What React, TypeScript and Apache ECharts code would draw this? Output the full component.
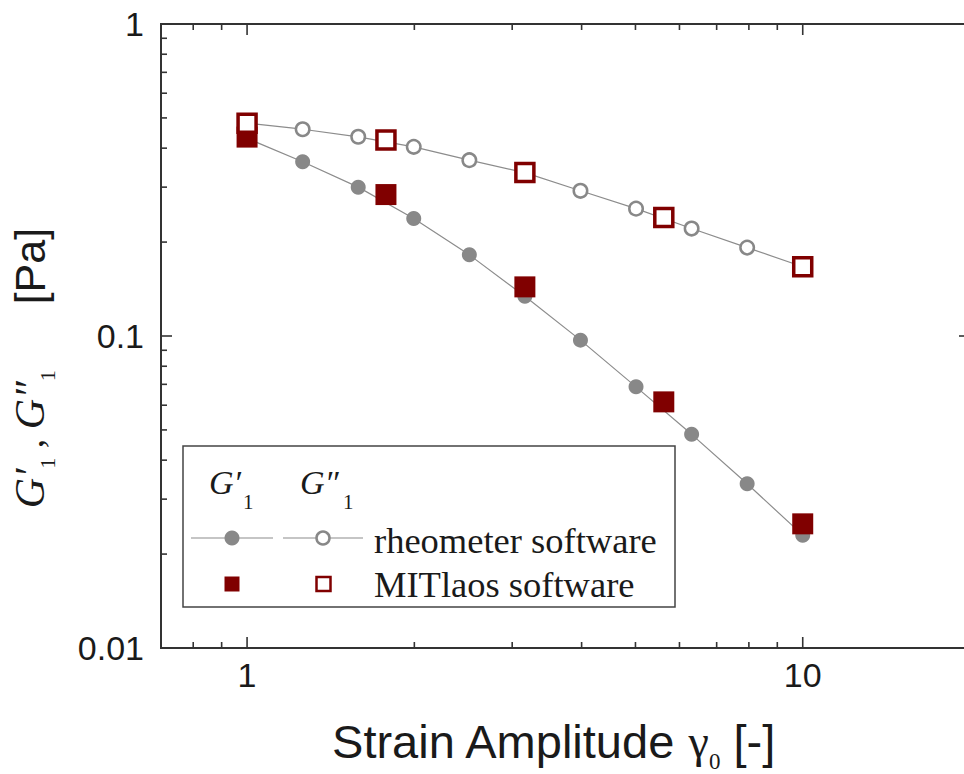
import React, { useEffect, useRef } from 'react';
import * as echarts from 'echarts';

// ---- data ----
const strainRheo = [1, 1.259, 1.585, 1.995, 2.512, 3.162, 3.981, 5.012, 6.31, 7.943, 10];
const gPrimeRheo = [0.43, 0.362, 0.3, 0.238, 0.182, 0.134, 0.097, 0.0687, 0.0484, 0.0336, 0.023];
const gDoublePrimeRheo = [0.481, 0.46, 0.435, 0.404, 0.366, 0.334, 0.292, 0.256, 0.221, 0.192, 0.1667];

const strainMit = [1, 1.778, 3.162, 5.623, 10];
const gPrimeMit = [0.434, 0.284, 0.1437, 0.0615, 0.025];
const gDoublePrimeMit = [0.481, 0.4245, 0.3344, 0.2399, 0.1667];

const xMajorTicks = [1, 10];
const xTickLabels = ['1', '10'];
const yMajorTicks = [0.01, 0.1, 1];
const yTickLabels = ['0.01', '0.1', '1'];
const xTickValues = [0.7, 0.8, 0.9, 1, 2, 3, 4, 5, 6, 7, 8, 9, 10, 20];
const yTickValues = [
  0.01, 0.02, 0.03, 0.04, 0.05, 0.06, 0.07, 0.08, 0.09,
  0.1, 0.2, 0.3, 0.4, 0.5, 0.6, 0.7, 0.8, 0.9, 1,
];

const SANS = '"Liberation Sans", Arial, Helvetica, sans-serif';
const SERIF = '"Liberation Serif", "Times New Roman", Times, serif';
const RED = '#800000';
const GRAY = '#888888';
const INK = '#1a1a1a';

const isMajor = (v: number) => {
  const l = Math.log10(v);
  return Math.abs(l - Math.round(l)) < 1e-6;
};
const labelFor = (v: number, majors: number[], labels: string[]) => {
  for (let i = 0; i < majors.length; i++) {
    if (Math.abs(v - majors[i]) / majors[i] < 1e-6) return labels[i];
  }
  return '';
};

const tickStyle = { stroke: '#333', lineWidth: 1.6 };
const leftMid = { align: 'left', verticalAlign: 'middle', textAlign: 'left', textVerticalAlign: 'middle' };

export default function App() {
  const ref = useRef<HTMLDivElement>(null);

  useEffect(() => {
    const chart = echarts.init(ref.current as HTMLDivElement, null, { renderer: 'svg' });

    const option: any = {
      animation: false,
      backgroundColor: '#ffffff',
      grid: {
        left: 161,
        top: 24,
        width: 809,
        height: 624,
        show: true,
        borderColor: '#333',
        borderWidth: 2,
        backgroundColor: 'transparent',
        outerBoundsMode: 'none',
        containLabel: false,
      },
      xAxis: {
        type: 'log',
        logBase: 10,
        min: 0.7,
        max: 20,
        axisLine: { show: false },
        axisTick: { show: false },
        minorTick: { show: false },
        splitLine: { show: false },
        axisLabel: {
          margin: 10,
          fontSize: 34,
          fontFamily: SANS,
          color: INK,
          formatter: (v: number) => labelFor(v, xMajorTicks, xTickLabels),
        },
      },
      yAxis: {
        type: 'log',
        logBase: 10,
        min: 0.01,
        max: 1,
        axisLine: { show: false },
        axisTick: { show: false },
        minorTick: { show: false },
        splitLine: { show: false },
        axisLabel: {
          margin: 17,
          fontSize: 34,
          fontFamily: SANS,
          color: INK,
          formatter: (v: number) => labelFor(v, yMajorTicks, yTickLabels),
        },
      },
      series: [
        {
          name: 'xTicks',
          type: 'custom',
          silent: true,
          clip: false,
          z: 10,
          data: xTickValues.map((v) => [v, 0.1]),
          renderItem: (params: any, api: any) => {
            const v = api.value(0);
            const x = api.coord([v, 0.1])[0];
            const cs = params.coordSys;
            const len = isMajor(v) ? 11 : 6;
            const b = cs.y + cs.height;
            return {
              type: 'group',
              children: [
                { type: 'line', shape: { x1: x, y1: b, x2: x, y2: b - len }, style: tickStyle },
                { type: 'line', shape: { x1: x, y1: cs.y, x2: x, y2: cs.y + len }, style: tickStyle },
              ],
            };
          },
        },
        {
          name: 'yTicks',
          type: 'custom',
          silent: true,
          clip: false,
          z: 10,
          data: yTickValues.map((v) => [1, v]),
          renderItem: (params: any, api: any) => {
            const v = api.value(1);
            const y = api.coord([1, v])[1];
            const cs = params.coordSys;
            const len = isMajor(v) ? 11 : 6;
            const r = cs.x + cs.width;
            return {
              type: 'group',
              children: [
                { type: 'line', shape: { x1: cs.x, y1: y, x2: cs.x + len, y2: y }, style: tickStyle },
                { type: 'line', shape: { x1: r, y1: y, x2: r - len, y2: y }, style: tickStyle },
              ],
            };
          },
        },
        {
          name: "G'1 rheometer",
          type: 'line',
          data: strainRheo.map((x, i) => [x, gPrimeRheo[i]]),
          symbol: 'circle',
          symbolSize: 15,
          itemStyle: { color: GRAY, opacity: 1 },
          lineStyle: { color: '#8c8c8c', width: 1.2 },
          z: 3,
        },
        {
          name: "G''1 rheometer",
          type: 'line',
          data: strainRheo.map((x, i) => [x, gDoublePrimeRheo[i]]),
          symbol: 'circle',
          symbolSize: 13.5,
          itemStyle: { color: '#ffffff', borderColor: GRAY, borderWidth: 2.5, opacity: 1 },
          lineStyle: { color: '#8c8c8c', width: 1.2 },
          z: 3,
        },
        {
          name: "G'1 MITlaos",
          type: 'scatter',
          data: strainMit.map((x, i) => [x, gPrimeMit[i]]),
          symbol: 'rect',
          symbolSize: 21,
          itemStyle: { color: RED, opacity: 1 },
          z: 4,
        },
        {
          name: "G''1 MITlaos",
          type: 'scatter',
          data: strainMit.map((x, i) => [x, gDoublePrimeMit[i]]),
          symbol: 'rect',
          symbolSize: 18,
          itemStyle: { color: '#ffffff', borderColor: RED, borderWidth: 3.5, opacity: 1 },
          z: 5,
        },
      ],
      graphic: [
        // legend frame
        {
          type: 'rect',
          shape: { x: 183, y: 446, width: 492, height: 161 },
          style: { fill: '#ffffff', stroke: '#444', lineWidth: 1.5 },
          z: 20,
        },
        { type: 'text', x: 209, y: 482, z: 21, style: { text: 'G′', fontFamily: SERIF, fontStyle: 'italic', fontSize: 34, fill: INK, ...leftMid } },
        { type: 'text', x: 243, y: 502, z: 21, style: { text: '1', fontFamily: SERIF, fontSize: 21, fill: INK, ...leftMid } },
        { type: 'text', x: 300, y: 482, z: 21, style: { text: 'G″', fontFamily: SERIF, fontStyle: 'italic', fontSize: 34, fill: INK, ...leftMid } },
        { type: 'text', x: 343, y: 502, z: 21, style: { text: '1', fontFamily: SERIF, fontSize: 21, fill: INK, ...leftMid } },
        // row 1: rheometer
        { type: 'line', z: 21, shape: { x1: 191, y1: 538, x2: 273, y2: 538 }, style: { stroke: '#8c8c8c', lineWidth: 1.2 } },
        { type: 'circle', z: 22, shape: { cx: 232, cy: 538, r: 7.5 }, style: { fill: GRAY } },
        { type: 'line', z: 21, shape: { x1: 283, y1: 538, x2: 363, y2: 538 }, style: { stroke: '#8c8c8c', lineWidth: 1.2 } },
        { type: 'circle', z: 22, shape: { cx: 323, cy: 538, r: 6.5 }, style: { fill: '#ffffff', stroke: GRAY, lineWidth: 2.5 } },
        { type: 'text', x: 374, y: 540, z: 21, style: { text: 'rheometer software', fontFamily: SERIF, fontSize: 36.5, fill: INK, ...leftMid } },
        // row 2: MITlaos
        { type: 'rect', z: 22, shape: { x: 224.5, y: 576.5, width: 15, height: 15 }, style: { fill: RED } },
        { type: 'rect', z: 22, shape: { x: 316.5, y: 577, width: 14, height: 14 }, style: { fill: '#ffffff', stroke: RED, lineWidth: 2.5 } },
        { type: 'text', x: 374, y: 584, z: 21, style: { text: 'MITlaos software', fontFamily: SERIF, fontSize: 36.5, fill: INK, ...leftMid } },
        // x axis title
        {
          type: 'text',
          x: 553,
          y: 741,
          z: 21,
          style: {
            text: '{a|Strain Amplitude }{g|γ}{s|0}{a| [-]}',
            align: 'center',
            verticalAlign: 'middle',
            textAlign: 'center',
            textVerticalAlign: 'middle',
            fill: INK,
            rich: {
              a: { fontFamily: SANS, fontSize: 47, lineHeight: 64, verticalAlign: 'middle', fill: INK, color: INK },
              g: { fontFamily: SERIF, fontSize: 46, lineHeight: 64, verticalAlign: 'middle', fill: INK, color: INK },
              s: { fontFamily: SERIF, fontSize: 23, lineHeight: 23, verticalAlign: 'bottom', fill: INK, color: INK },
            },
          },
        },
        // y axis title (rotated)
        {
          type: 'text',
          x: 30,
          y: 368,
          rotation: Math.PI / 2,
          z: 21,
          style: {
            text: '{g|G′}{s|1}{c| , }{g|G″}{s|1}{sp|}{a|[Pa]}',
            align: 'center',
            verticalAlign: 'middle',
            textAlign: 'center',
            textVerticalAlign: 'middle',
            fill: INK,
            rich: {
              g: { fontFamily: SERIF, fontStyle: 'italic', fontSize: 42, lineHeight: 56, verticalAlign: 'middle', fill: INK, color: INK },
              s: { fontFamily: SERIF, fontSize: 22, lineHeight: 22, verticalAlign: 'bottom', fill: INK, color: INK },
              c: { fontFamily: SERIF, fontSize: 38, lineHeight: 56, verticalAlign: 'middle', fill: INK, color: INK },
              sp: { width: 66, lineHeight: 56 },
              a: { fontFamily: SANS, fontSize: 43, lineHeight: 56, verticalAlign: 'middle', fill: INK, color: INK },
            },
          },
        },
      ],
    };

    chart.setOption(option);
    return () => chart.dispose();
  }, []);

  return (
    <div
      ref={ref}
      style={{ position: 'absolute', left: 0, top: 0, width: 964, height: 774, background: '#ffffff' }}
    />
  );
}
